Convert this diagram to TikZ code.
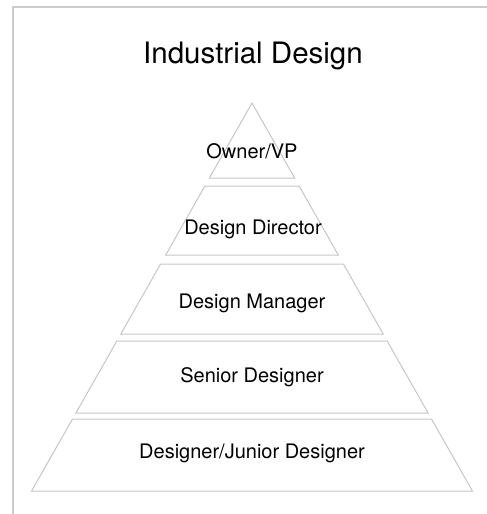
\documentclass[tikz,border=0pt]{standalone}
\usepackage{fontspec}
\setmainfont{TeX Gyre Heros}
\usetikzlibrary{positioning}

\begin{document}
\begin{tikzpicture}[x=1pt,y=-1pt,
    frame/.style={draw=gray!40,line width=2pt},
    tier/.style={draw=gray!45,line width=1pt,line join=miter},
    tierlabel/.style={anchor=base,font=\fontsize{20}{24}\selectfont},
    titlelabel/.style={anchor=base,font=\fontsize{29.5}{34}\selectfont}]
  \useasboundingbox (0,0) rectangle (487,514);
  % panel edge, running off the right and bottom
  \draw[frame] (13,514) -- (13,7) -- (487,7);
  \node[titlelabel] (title) at (253,63) {Industrial Design};
  % the five tiers of the pyramid, top to bottom
  \draw[tier] (252,103) -- (294.6,178) -- (209.4,178) -- cycle;
  \draw[tier] (204.9,186) -- (299.1,186) -- (338.3,255) -- (165.7,255) -- cycle;
  \draw[tier] (160.6,264) -- (343.4,264) -- (383.2,334) -- (120.8,334) -- cycle;
  \draw[tier] (116.8,341) -- (387.2,341) -- (428.1,413) -- (75.9,413) -- cycle;
  \draw[tier] (72.5,419) -- (431.5,419) -- (472.4,491) -- (31.6,491) -- cycle;
  % tier names
  \node[tierlabel] (owner) at (252,158) {Owner/VP};
  \node[tierlabel] (director) at (253,234) {Design Director};
  \node[tierlabel] (manager) at (252,308) {Design Manager};
  \node[tierlabel] (senior) at (252,382) {Senior Designer};
  \node[tierlabel] (junior) at (252,458) {Designer/Junior Designer};
\end{tikzpicture}
\end{document}
